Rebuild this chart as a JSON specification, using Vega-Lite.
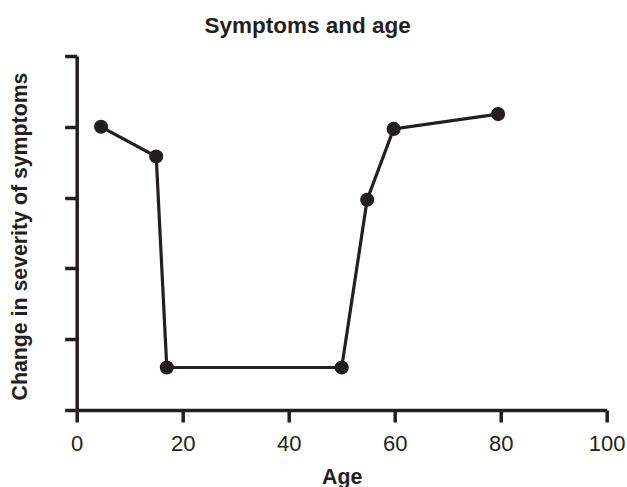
{
  "$schema": "https://vega.github.io/schema/vega-lite/v6.json",
  "width": 530,
  "height": 354,
  "autosize": {"type": "none"},
  "padding": {"left": 76.7, "top": 56, "right": 20.3, "bottom": 77},
  "background": "white",
  "title": {
    "text": "Symptoms and age",
    "font": "Liberation Sans",
    "fontSize": 22.5,
    "fontWeight": "bold",
    "color": "#231f20",
    "anchor": "middle",
    "dx": -34,
    "offset": -1,
    "baseline": "alphabetic"
  },
  "config": {
    "view": {"stroke": null},
    "axis": {
      "domainColor": "#231f20",
      "domainWidth": 3.5,
      "tickColor": "#231f20",
      "tickWidth": 3.5,
      "tickSize": 12,
      "grid": false,
      "labelFont": "Liberation Sans",
      "labelFontSize": 22,
      "labelColor": "#231f20",
      "titleFont": "Liberation Sans",
      "titleFontSize": 21.3,
      "titleFontWeight": "bold",
      "titleColor": "#231f20"
    }
  },
  "data": {
    "values": [
      {"age": 4.6, "change": 4.0},
      {"age": 15.0, "change": 3.58},
      {"age": 17.0, "change": 0.6},
      {"age": 50.0, "change": 0.6},
      {"age": 54.8, "change": 2.97},
      {"age": 59.8, "change": 3.97},
      {"age": 79.5, "change": 4.18}
    ]
  },
  "encoding": {
    "x": {
      "field": "age",
      "type": "quantitative",
      "scale": {"domain": [0, 100], "nice": false, "zero": false},
      "axis": {
        "title": "Age",
        "values": [0, 20, 40, 60, 80, 100],
        "labelBaseline": "alphabetic",
        "labelPadding": 28,
        "labelFlush": false,
        "labelOverlap": false,
        "titleBaseline": "alphabetic",
        "titleX": 265,
        "titleY": 73,
        "titleAlign": "center"
      }
    },
    "y": {
      "field": "change",
      "type": "quantitative",
      "scale": {"domain": [0, 5], "nice": false, "zero": false},
      "axis": {
        "title": "Change in severity of symptoms",
        "values": [0, 1, 2, 3, 4, 5],
        "labels": false,
        "titleAngle": -90,
        "titleBaseline": "alphabetic",
        "titleAlign": "center",
        "titleX": -50,
        "titleY": 180
      }
    }
  },
  "layer": [
    {
      "mark": {"type": "line", "color": "#231f20", "strokeWidth": 3.2}
    },
    {
      "mark": {"type": "point", "filled": true, "color": "#231f20", "opacity": 1, "size": 200}
    }
  ]
}
